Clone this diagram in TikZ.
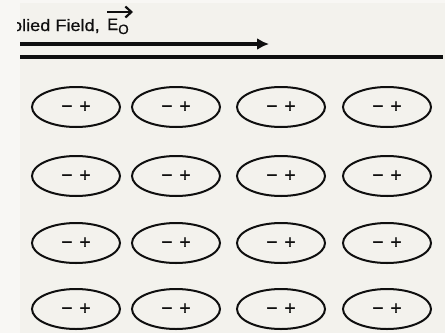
\documentclass[tikz,border=0pt]{standalone}
\usepackage{fontspec}
\setmainfont{Liberation Sans}
\newfontfamily\signfont[FakeBold=1.2]{Liberation Sans}
\newfontfamily\titlefont[FakeBold=0.6]{Liberation Sans}
\usetikzlibrary{shapes.geometric,arrows.meta}
\definecolor{bgc}{RGB}{243,242,237}
\definecolor{stripc}{RGB}{248,247,244}
\definecolor{inkc}{RGB}{15,15,15}
\begin{document}
\begin{tikzpicture}[x=1pt,y=-1pt,
  dipole/.style={draw=inkc,line width=2pt,ellipse,minimum width=88pt,minimum height=40pt,inner sep=0pt,
    font=\signfont\fontsize{19}{19}\selectfont,text=inkc},
  fieldarrow/.style={draw=inkc,line width=3.2pt,-{Latex[length=12pt,width=12pt]}},
  plate/.style={draw=inkc,line width=3.4pt}]
\fill[bgc] (0,0) rectangle (445,333);
\useasboundingbox (0,0) rectangle (445,333);
\fill[stripc] (0,0) rectangle (20,333);
\fill[stripc] (20,0) rectangle (445,3);
% title
\begin{scope}
\clip (17,0) rectangle (445,60);
\node[anchor=base east,inner sep=0pt,xscale=1.1,font=\titlefont\fontsize{16.5}{16.5}\selectfont,text=inkc] (title) at (100,31) {plied Field,};
\end{scope}
\node[anchor=base west,inner sep=0pt,font=\titlefont\fontsize{16.5}{16.5}\selectfont,text=inkc] (E) at (107,30) {E\raisebox{-4pt}{\fontsize{13.5}{13.5}\selectfont O}};
\coordinate (va) at (107,12);
\coordinate (vb) at (133,12);
\draw[draw=inkc,line width=2.2pt,-{Straight Barb[length=6pt,width=11pt]}] (va) -- (vb);
% field arrow and plate
\coordinate (fa) at (20,44);
\coordinate (fb) at (269,44);
\draw[fieldarrow] (fa) -- (fb);
\coordinate (pa) at (20,57);
\coordinate (pb) at (443,57);
\draw[plate] (pa) -- (pb);
% dipoles
\foreach \r/\yy in {1/107,2/176,3/243,4/309}{
  \foreach \c/\xx in {1/76,2/176,3/281,4/387}{
    \node[dipole] (d\r\c) at (\xx,\yy) {−\hspace{7pt}+};
  }
}
\end{tikzpicture}
\end{document}
